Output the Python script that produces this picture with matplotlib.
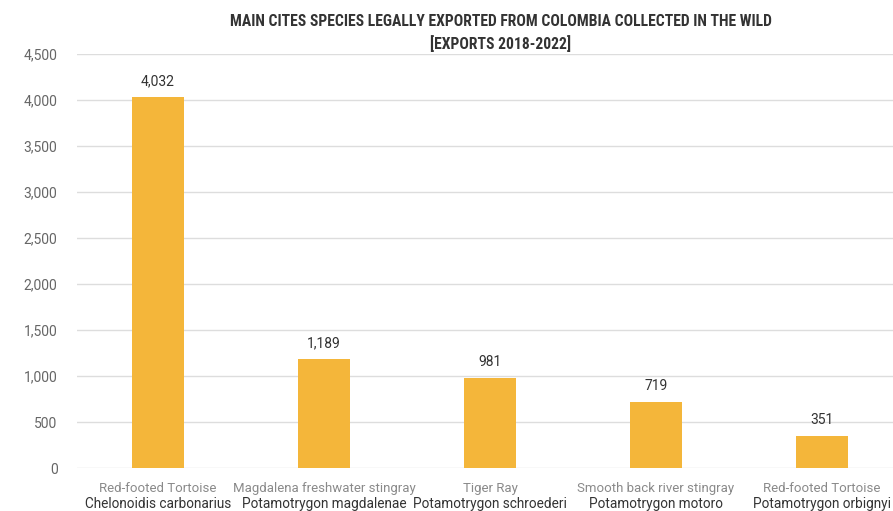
import matplotlib
matplotlib.use("Agg")
import matplotlib.pyplot as plt
from matplotlib.ticker import FuncFormatter, MultipleLocator
from matplotlib import font_manager

common_names = ["Red-footed Tortoise", "Magdalena freshwater stingray", "Tiger Ray",
                "Smooth back river stingray", "Red-footed Tortoise"]
scientific_names = ["Chelonoidis carbonarius", "Potamotrygon magdalenae", "Potamotrygon schroederi",
                    "Potamotrygon motoro", "Potamotrygon orbignyi"]
exports = [4032, 1189, 981, 719, 351]

title_lines = ["MAIN CITES SPECIES LEGALLY EXPORTED FROM COLOMBIA COLLECTED IN THE WILD",
               "[EXPORTS 2018-2022]"]

names = {f.name for f in font_manager.fontManager.ttflist}
base_font = "Roboto" if "Roboto" in names else "DejaVu Sans"
title_font = base_font
for cand in ["Roboto Condensed", "Open Sans Condensed", "DejaVu Sans Condensed", "Liberation Sans Narrow"]:
    if cand in names:
        title_font = cand
        break

fig = plt.figure(figsize=(8.93, 5.11), dpi=100)
ax = fig.add_axes([77/893, 1-468/511, 1-77/893, (468-54)/511])

x = list(range(len(exports)))
ax.bar(x, exports, width=0.31, color="#F4B63A", zorder=3)
for xi, v in zip(x, exports):
    ax.text(xi, v + 95, f"{v:,}", ha="center", va="bottom", fontsize=10,
            color="#333333", family=base_font)

ax.set_xlim(-0.488, 4.428)
ax.set_ylim(0, 4500)
ax.yaxis.set_major_locator(MultipleLocator(500))
ax.yaxis.set_major_formatter(FuncFormatter(lambda v, p: f"{int(v):,}"))
ax.grid(axis="y", color="#dddddd", linewidth=1, zorder=0)
for s in ax.spines.values():
    s.set_visible(False)
ax.tick_params(axis="y", length=0, pad=14, labelsize=10, labelcolor="#666666")
for lab in ax.get_yticklabels():
    lab.set_family(base_font)
ax.set_xticks([])

trans = ax.get_xaxis_transform()
for xi, cn, sn in zip(x, common_names, scientific_names):
    ax.text(xi, -0.05, cn, transform=trans, ha="center", va="center", fontsize=9.5,
            color="#8a8a8a", family=base_font)
    ax.text(xi, -0.087, sn, transform=trans, ha="center", va="center", fontsize=9.8,
            color="#333333", family=base_font)

# title, fitted to the reference width
t1 = fig.text(501/893, 1-22/511, title_lines[0], ha="center", va="center", fontsize=12,
              fontweight="bold", color="#333333", family=title_font)
renderer = fig.canvas.get_renderer()
w = t1.get_window_extent(renderer).width
fs = 12 * 540 / w
t1.set_fontsize(fs)
fig.text(501/893, 1-44/511, title_lines[1], ha="center", va="center", fontsize=fs,
         fontweight="bold", color="#333333", family=title_font)

fig.savefig("out.png", dpi=100)
